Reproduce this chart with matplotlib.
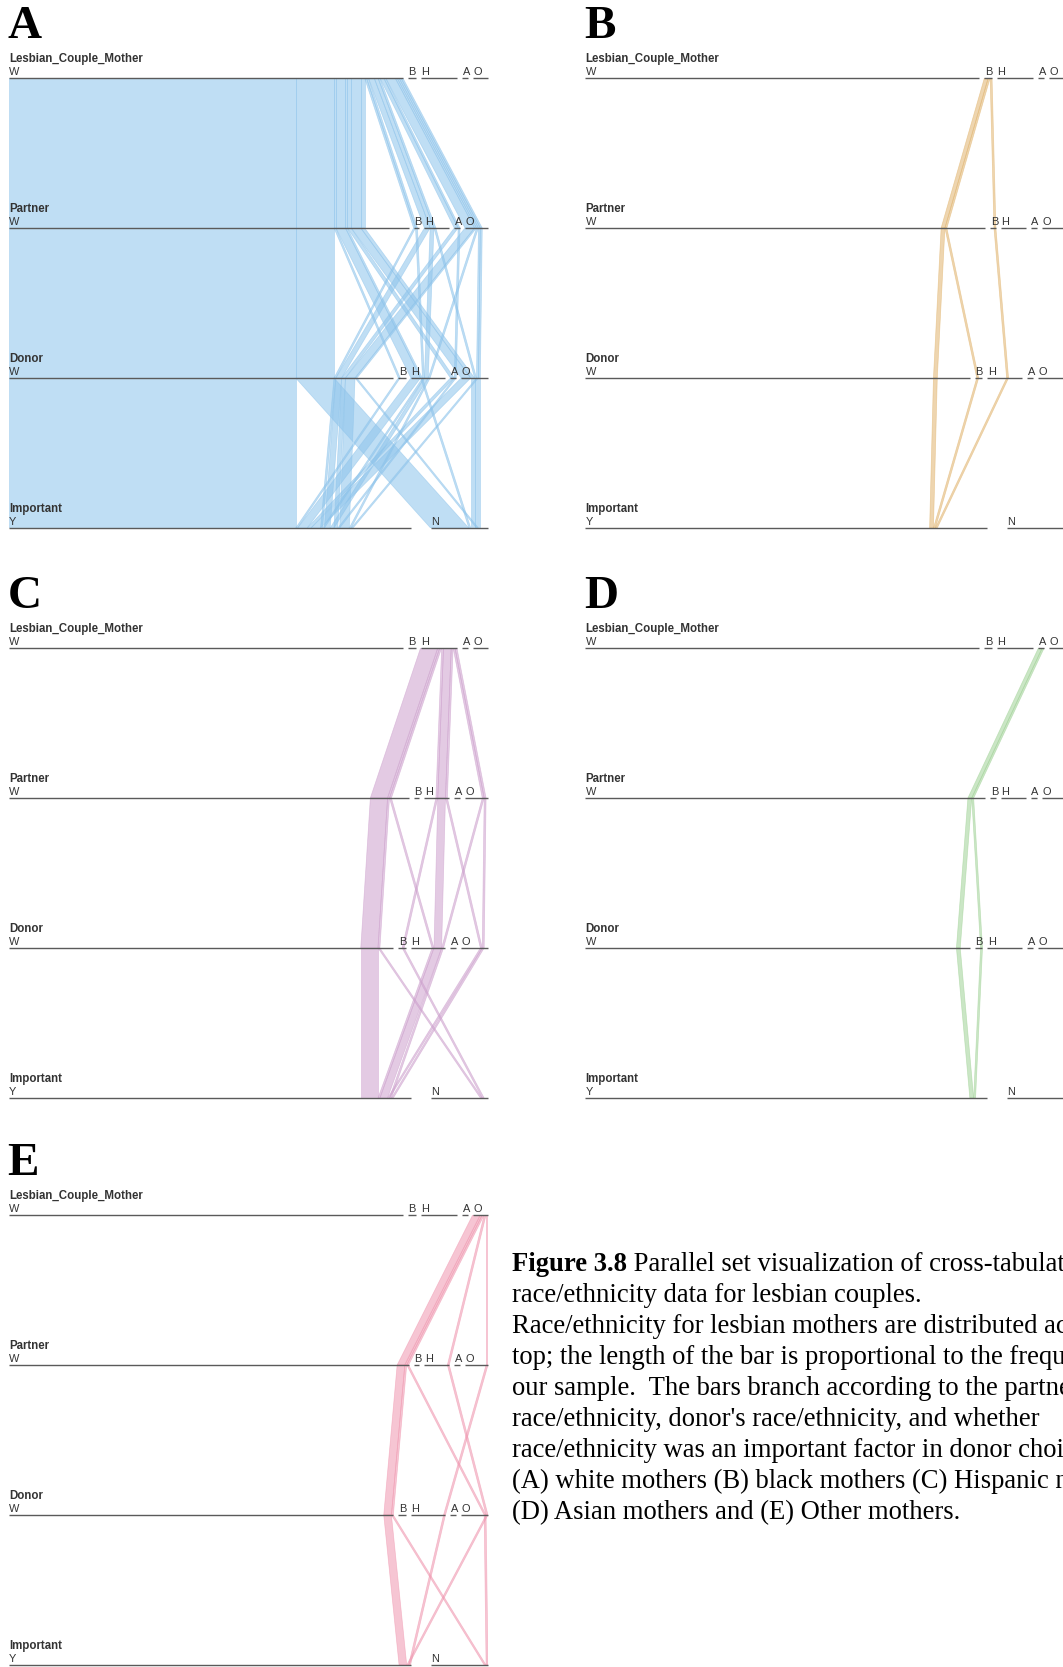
import matplotlib
matplotlib.use("Agg")
import matplotlib.pyplot as plt
from matplotlib.patches import Polygon

# Category orders on each axis
race_levels = ["W", "B", "H", "A", "O"]
important_levels = ["Y", "N"]
dimension_names = ["Lesbian_Couple_Mother", "Partner", "Donor", "Important"]

# Cross-tabulation: one row per observed combination
mother = ["W"] * 20 + ["B"] * 3 + ["H"] * 8 + ["A"] * 2 + ["O"] * 5
partner = ["W", "W", "W", "W", "W", "W", "W", "W", "B", "B", "H", "H", "H", "A", "A",
           "O", "O", "O", "O", "O",
           "W", "W", "B",
           "W", "W", "W", "H", "H", "H", "O", "O",
           "W", "W",
           "W", "W", "W", "H", "O"]
donor = ["W", "W", "B", "H", "H", "A", "O", "O", "W", "H", "W", "H", "O", "W", "A",
         "W", "W", "H", "O", "O",
         "W", "B", "H",
         "W", "W", "H", "B", "H", "O", "H", "O",
         "W", "B",
         "W", "W", "O", "O", "H"]
important = ["Y", "N", "Y", "Y", "N", "Y", "Y", "N", "Y", "Y", "Y", "Y", "N", "Y", "Y",
             "Y", "N", "Y", "Y", "N",
             "Y", "Y", "Y",
             "Y", "N", "Y", "N", "Y", "Y", "Y", "Y",
             "Y", "Y",
             "Y", "N", "N", "Y", "Y"]
count = [150, 20, 1, 5, 1, 2, 5, 2, 1, 1, 3, 2, 1, 2, 1,
         5, 1, 1, 1, 1,
         2, 1, 1,
         9, 1, 1, 1, 4, 1, 1, 1,
         2, 1,
         4, 1, 1, 1, 1]

# Panels: letter, highlighted mother category, ribbon colour
panel_letters = ["A", "B", "C", "D", "E"]
panel_mother = ["W", "B", "H", "A", "O"]
panel_colors = ["#8cc3eb", "#e1b46e", "#cda0cd", "#a0d296", "#f096af"]

caption_lines = [
    "race/ethnicity data for lesbian couples.",
    "Race/ethnicity for lesbian mothers are distributed across the",
    "top; the length of the bar is proportional to the frequency in",
    "our sample.  The bars branch according to the partner's",
    "race/ethnicity, donor's race/ethnicity, and whether",
    "race/ethnicity was an important factor in donor choice.",
    "(A) white mothers (B) black mothers (C) Hispanic mothers",
    "(D) Asian mothers and (E) Other mothers.",
]

# ---------------------------------------------------------------- layout
W_PX, H_PX = 1063, 1667
GAP_TOTAL = 10.45          # blank space per axis, in count units
columns = [mother, partner, donor, important]
levels = [race_levels, race_levels, race_levels, important_levels]
n_rows = len(count)
total = sum(count)

order = sorted(range(n_rows),
               key=lambda r: tuple(levels[k].index(columns[k][r]) for k in range(4)))

seg = []      # per axis: {category: (start, end)}
pos = []      # per axis: start of each row's ribbon
for k in range(4):
    cats = levels[k]
    gap = GAP_TOTAL / (len(cats) - 1)
    tot = {c: sum(cnt for v, cnt in zip(columns[k], count) if v == c) for c in cats}
    s, start = {}, 0.0
    for c in cats:
        s[c] = (start, start + tot[c])
        start += tot[c] + gap
    seg.append(s)
    cursor = {c: s[c][0] for c in cats}
    p = [0.0] * n_rows
    for r in order:
        c = columns[k][r]
        p[r] = cursor[c]
        cursor[c] += count[r]
    pos.append(p)

fig = plt.figure(figsize=(W_PX / 100, H_PX / 100), dpi=100)
fig.patch.set_facecolor("white")

panel_left = [8.5, 585.0, 8.5, 585.0, 8.5]
panel_top = [78.0, 78.0, 648.0, 648.0, 1215.0]
axis_len_px = 479.5
axis_span_px = 450.0

sans = ["Liberation Sans", "DejaVu Sans"]
serif = ["Liberation Serif", "DejaVu Serif"]

for letter, m, col, L, T in zip(panel_letters, panel_mother, panel_colors,
                                panel_left, panel_top):
    ax = fig.add_axes([L / W_PX, 1 - (T + axis_span_px) / H_PX,
                       axis_len_px / W_PX, axis_span_px / H_PX])
    ax.set_xlim(0, total + GAP_TOTAL)
    ax.set_ylim(3, 0)
    ax.axis("off")

    for r in order:
        if mother[r] != m:
            continue
        c = count[r]
        for k in range(3):
            x0, x1 = pos[k][r], pos[k + 1][r]
            poly = Polygon([(x0, k), (x0 + c, k), (x1 + c, k + 1), (x1, k + 1)],
                           closed=True, facecolor=col, alpha=0.55,
                           edgecolor=col, linewidth=0.5, zorder=1)
            ax.add_patch(poly)

    for k in range(4):
        for cat in levels[k]:
            a, b = seg[k][cat]
            ax.hlines(k, a, b, colors="#5a5a5a", linewidth=1.0, zorder=3,
                      clip_on=False)
            ax.annotate(cat, xy=(a, k), xytext=(0.4, 2.2), textcoords="offset points",
                        fontsize=7.9, family=sans, color="#333333",
                        ha="left", va="baseline", annotation_clip=False)
        ax.annotate(dimension_names[k], xy=(0, k), xytext=(0.4, 11.6),
                    textcoords="offset points", fontsize=8.3, family=sans,
                    fontweight="bold", color="#333333", ha="left", va="baseline",
                    annotation_clip=False)

    fig.text((L - 1.0) / W_PX, 1 - (T - 40) / H_PX, letter, fontsize=34,
             family=serif, fontweight="bold", color="black",
             ha="left", va="baseline")

# Caption
cap_x = 512 / W_PX
cap_y0 = 1271
line_step = 31
cap_size = 19.2
bold = fig.text(cap_x, 1 - cap_y0 / H_PX, "Figure 3.8", fontsize=cap_size,
                family=serif, fontweight="bold", ha="left", va="baseline")
fig.canvas.draw()
bb = bold.get_window_extent(renderer=fig.canvas.get_renderer())
fig.text(bb.x1 / W_PX, 1 - cap_y0 / H_PX, " Parallel set visualization of cross-tabulated",
         fontsize=cap_size, family=serif, ha="left", va="baseline")
for i, line in enumerate(caption_lines, start=1):
    fig.text(cap_x, 1 - (cap_y0 + i * line_step) / H_PX, line, fontsize=cap_size,
             family=serif, ha="left", va="baseline")

fig.savefig("out.png", dpi=100, facecolor="white")
